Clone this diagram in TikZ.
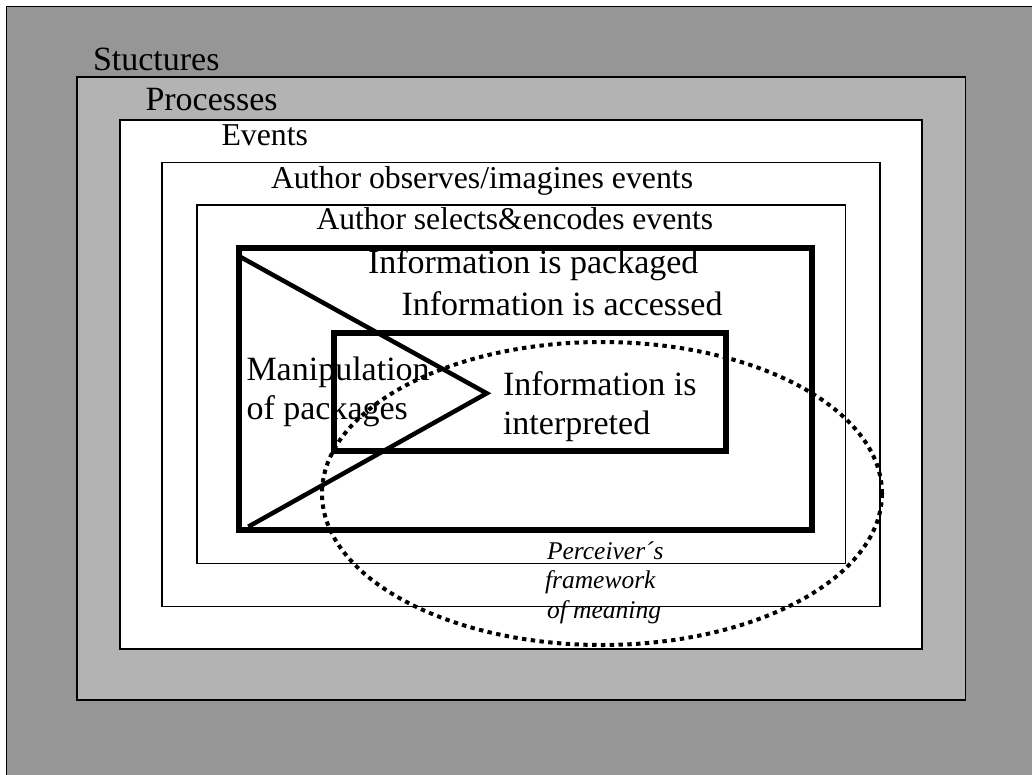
\documentclass[tikz,border=0pt]{standalone}
\usepackage{fontspec}
\setmainfont{Liberation Serif}
\definecolor{bgdark}{RGB}{150,150,150}
\definecolor{bglight}{RGB}{179,179,179}
\tikzset{
  thinframe/.style={draw=black, line width=1.5pt},
  thickframe/.style={draw=black, line width=6pt},
  wedge/.style={draw=black, line width=4.5pt, line join=miter},
  framework/.style={draw=black, line width=4pt, dash pattern=on 4.4pt off 4.4pt},
  lbl/.style={anchor=base west, inner sep=0pt, outer sep=0pt},
  big/.style={font=\fontsize{34}{39}\selectfont},
  mid/.style={font=\fontsize{31.8}{38}\selectfont},
  ital/.style={font=\fontsize{25.5}{29}\selectfont\itshape},
}
\begin{document}
\begin{tikzpicture}[x=1pt, y=-1pt]
\useasboundingbox (0,0) rectangle (1032,775);
% page background
\fill[white] (0,0) rectangle (1032,775);
\fill[bgdark] (6.5,6.5) rectangle (1040,790);
\draw[black, line width=1.3pt] (6.5,790) -- (6.5,6.5) -- (1040,6.5);
% nested layers
\filldraw[thinframe, fill=bglight] (77,77) rectangle (965.5,700);
\filldraw[thinframe, fill=white] (120,120) rectangle (922,649);
\draw[thinframe] (162,162.5) rectangle (880,606.5);
\draw[thinframe] (197,205) rectangle (845.5,563.5);
% packaged information and interpretation
\draw[thickframe] (238.8,247.8) rectangle (811.7,530);
\draw[thickframe] (333.7,333) rectangle (726.3,451.3);
\draw[wedge] (240,256.7) -- (486.7,393.3) -- (248.3,526.7);
% perceiver's framework
\draw[framework] (602,493.5) ellipse [x radius=280, y radius=151.5];
% labels
\node[lbl, big] (structures) at (93,71) {Stuctures};
\node[lbl, big] (processes) at (145.5,111) {Processes};
\node[lbl, mid] (events) at (221.5,145.5) {Events};
\node[lbl, mid] (observes) at (271,188.5) {Author observes/imagines events};
\node[lbl, font=\fontsize{31.6}{38}\selectfont] (selects) at (316.5,230) {Author selects\&encodes events};
\node[lbl, big] (packaged) at (368,273.5) {Information is packaged};
\node[lbl, big] (accessed) at (401.5,315) {Information is accessed};
\node[lbl, big] (manip1) at (246.5,380) {Manipulation};
\node[lbl, big] (manip2) at (246.5,419) {of packages};
\node[lbl, big] (interp1) at (503,395) {Information is};
\node[lbl, big] (interp2) at (503,434) {interpreted};
\node[lbl, ital] (perc1) at (547,559) {Perceiver´s};
\node[lbl, ital] (perc2) at (545,588) {framework};
\node[lbl, ital] (perc3) at (547,618) {of meaning};
\end{tikzpicture}
\end{document}
